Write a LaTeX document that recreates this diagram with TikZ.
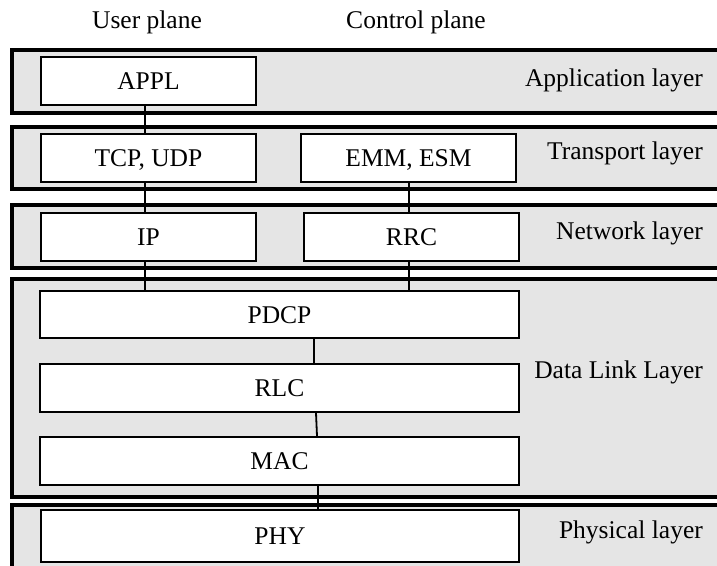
\documentclass[tikz,border=0pt]{standalone}
\usepackage{fontspec}
\setmainfont{Liberation Serif}
\begin{document}
\begin{tikzpicture}[x=1pt,y=-1pt,
  band/.style={draw=black, line width=3.5pt, fill=black!10},
  box/.style={draw=black, line width=1.8pt, fill=white, inner sep=0pt, minimum height=48pt, text height=17pt, text depth=0pt},
  conn/.style={draw=black, line width=1.8pt},
  lbl/.style={anchor=base east, inner sep=0pt},
  ttl/.style={anchor=base, inner sep=0pt}]
\fontsize{25.5}{30}\selectfont
\useasboundingbox (0,0) rectangle (717,565);
\clip (0,0) rectangle (717,565);
% layer bands
\path[band] (12,50) rectangle (730,113);
\path[band] (12,127) rectangle (730,189);
\path[band] (12,205) rectangle (730,268);
\path[band] (12,279) rectangle (730,497);
\path[band] (12,505) rectangle (730,580);
% titles
\node[ttl] (up) at (147,28) {User plane};
\node[ttl] (cp) at (416,28) {Control plane};
% layer labels
\node[lbl] (la) at (703,86) {Application layer};
\node[lbl] (lt) at (703,159) {Transport layer};
\node[lbl] (ln) at (703,239) {Network layer};
\node[lbl] (ld) at (703,378) {Data Link Layer};
\node[lbl] (lp) at (703,538) {Physical layer};
% connectors (behind boxes)
\coordinate (c1) at (145,0);
\coordinate (c2) at (409,0);
% boxes
\node[box, minimum width=215pt] (appl) at (148.5,81) {APPL};
\node[box, minimum width=215pt] (tcp) at (148.5,158) {TCP, UDP};
\node[box, minimum width=215pt] (emm) at (408.5,158) {EMM, ESM};
\node[box, minimum width=215pt] (ip) at (148.5,237) {IP};
\node[box, minimum width=215pt] (rrc) at (411.5,237) {RRC};
\node[box, minimum width=479pt, minimum height=47pt] (pdcp) at (279.5,314.5) {PDCP};
\node[box, minimum width=479pt] (rlc) at (279.5,388) {RLC};
\node[box, minimum width=479pt] (mac) at (279.5,461) {MAC};
\node[box, minimum width=478pt, minimum height=52pt] (phy) at (280,536) {PHY};
% connectors
\draw[conn] (c1 |- appl.south) -- (c1 |- tcp.north);
\draw[conn] (c1 |- tcp.south) -- (c1 |- ip.north);
\draw[conn] (c1 |- ip.south) -- (c1 |- pdcp.north);
\draw[conn] (c2 |- emm.south) -- (c2 |- rrc.north);
\draw[conn] (c2 |- rrc.south) -- (c2 |- pdcp.north);
\coordinate (c3) at (314,0);
\coordinate (c4) at (316,0);
\coordinate (c5) at (317,0);
\coordinate (c6) at (318,0);
\draw[conn] (c3 |- pdcp.south) -- (c3 |- rlc.north);
\draw[conn] (c4 |- rlc.south) -- (c5 |- mac.north);
\draw[conn] (c6 |- mac.south) -- (c6 |- phy.north);
\end{tikzpicture}
\end{document}
